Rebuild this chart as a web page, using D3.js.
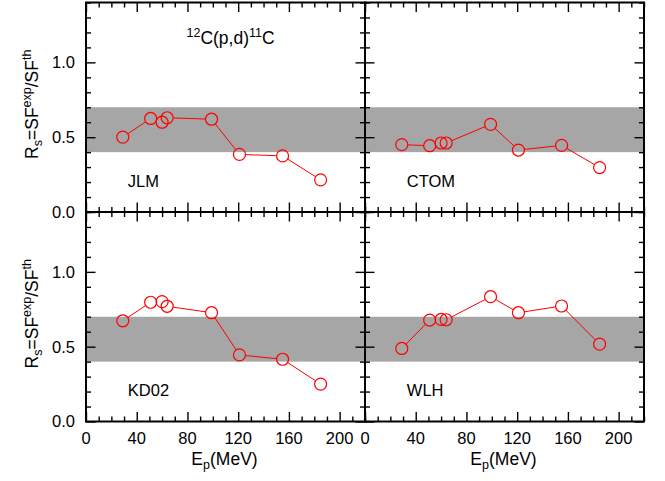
<!DOCTYPE html>
<html>
<head>
<meta charset="utf-8">
<script src="https://cdn.jsdelivr.net/npm/d3@7"></script>
<style>
  body { margin: 0; background: #fff; }
  svg { display: block; font-family: "Liberation Sans", Arial, Helvetica, sans-serif; }
</style>
</head>
<body>
<svg id="chart" width="665" height="481"></svg>
<script>
// ---- data ----
const energies = [29, 51, 60, 64, 99, 121, 155, 185];
const jlm  = [0.50, 0.625, 0.60, 0.63, 0.62, 0.385, 0.375, 0.215];
const ctom = [0.45, 0.443, 0.461, 0.461, 0.586, 0.414, 0.445, 0.297];
const kd02 = [0.673, 0.797, 0.801, 0.770, 0.727, 0.445, 0.416, 0.250];
const wlh  = [0.488, 0.678, 0.682, 0.680, 0.834, 0.727, 0.772, 0.517];
const panelNames = ["JLM", "CTOM", "KD02", "WLH"];
const panelSeries = [jlm, ctom, kd02, wlh];
const xTickLabels = [0, 40, 80, 120, 160, 200];
const yTickLabels = [0.0, 0.5, 1.0];
const bandRange = [0.4, 0.7];
const xDomain = [0, 220];
const yDomain = [0, 1.4];

// ---- layout ----
const svg = d3.select("#chart");
const colX = [86, 365], colW = 279;
const rowY = [2.5, 212], rowH = 209.5;
const minorLen = 5, majorLen = 9.5;
const R = 6;

const xMinor = d3.range(0, 221, 10).filter(v => v % 40 !== 0);
const xMajor = d3.range(0, 221, 40);
const yMinor = d3.range(0, 15, 1).map(v => v / 10).filter(v => Math.round(v * 10) % 5 !== 0);
const yMajor = [0, 0.5, 1.0];

function styleAxis(sel) {
  sel.select(".domain").remove();
  sel.selectAll(".tick line").attr("stroke", "#000").attr("stroke-width", 1.4);
  sel.selectAll(".tick text").remove();
}

panelNames.forEach((name, idx) => {
  const c = idx % 2, r = Math.floor(idx / 2);
  const x0 = colX[c], y0 = rowY[r];
  const x = d3.scaleLinear().domain(xDomain).range([x0, x0 + colW]);
  const y = d3.scaleLinear().domain(yDomain).range([y0 + rowH, y0]);
  const g = svg.append("g");

  // grey band
  g.append("rect")
    .attr("x", x(xDomain[0])).attr("width", x(xDomain[1]) - x(xDomain[0]))
    .attr("y", y(bandRange[1])).attr("height", y(bandRange[0]) - y(bandRange[1]))
    .attr("fill", "#a6a6a6");

  // ticks on all four sides (inward)
  [[xMinor, minorLen], [xMajor, majorLen]].forEach(([vals, len]) => {
    g.append("g").attr("transform", `translate(0,${y(0)})`)
      .call(d3.axisBottom(x).tickValues(vals).tickSize(-len)).call(styleAxis);
    g.append("g").attr("transform", `translate(0,${y(1.4)})`)
      .call(d3.axisTop(x).tickValues(vals).tickSize(-len)).call(styleAxis);
  });
  [[yMinor, minorLen], [yMajor, majorLen]].forEach(([vals, len]) => {
    g.append("g").attr("transform", `translate(${x(0)},0)`)
      .call(d3.axisLeft(y).tickValues(vals).tickSize(-len)).call(styleAxis);
    g.append("g").attr("transform", `translate(${x(220)},0)`)
      .call(d3.axisRight(y).tickValues(vals).tickSize(-len)).call(styleAxis);
  });

  // frame
  g.append("rect")
    .attr("x", x(0)).attr("y", y(1.4))
    .attr("width", x(220) - x(0)).attr("height", y(0) - y(1.4))
    .attr("fill", "none").attr("stroke", "#000").attr("stroke-width", 2);

  // data: segments clipped at the circle edges
  const vals = panelSeries[idx];
  const pts = energies.map((e, i) => [x(e), y(vals[i])]);
  const segs = d3.pairs(pts).map(([a, b]) => {
    const dx = b[0] - a[0], dy = b[1] - a[1];
    const L = Math.hypot(dx, dy);
    if (L <= 2 * R) return null;
    const ux = dx / L, uy = dy / L;
    return [[a[0] + ux * R, a[1] + uy * R], [b[0] - ux * R, b[1] - uy * R]];
  }).filter(s => s);
  g.selectAll("path.seg").data(segs).join("path")
    .attr("class", "seg")
    .attr("d", d => d3.line()(d))
    .attr("fill", "none").attr("stroke", "#ff0000").attr("stroke-width", 1);
  g.selectAll("circle.pt").data(pts).join("circle")
    .attr("class", "pt")
    .attr("cx", d => d[0]).attr("cy", d => d[1]).attr("r", R)
    .attr("fill", "none").attr("stroke", "#ff0000").attr("stroke-width", 1.2);

  // panel label
  g.append("text").attr("x", x(33)).attr("y", y(0.17))
    .attr("font-size", 16.5).text(name);

  // y tick labels (left column)
  if (c === 0) {
    g.selectAll("text.yt").data(yTickLabels).join("text")
      .attr("class", "yt")
      .attr("x", x0 - 11).attr("y", d => y(d)).attr("dy", "0.36em")
      .attr("text-anchor", "end").attr("font-size", 16.5)
      .text(d => d.toFixed(1));
    const yl = g.append("text")
      .attr("transform", `translate(38,${y(0.7) - 3}) rotate(-90)`)
      .attr("text-anchor", "middle").attr("font-size", 17.5);
    yl.append("tspan").text("R");
    yl.append("tspan").attr("font-size", 12.5).attr("dy", 4).text("s");
    yl.append("tspan").attr("dy", -4).text("=SF");
    yl.append("tspan").attr("font-size", 12.5).attr("dy", -7).text("exp");
    yl.append("tspan").attr("dy", 7).text("/SF");
    yl.append("tspan").attr("font-size", 12.5).attr("dy", -7).text("th");
  }
  // x tick labels (bottom row)
  if (r === 1) {
    g.selectAll("text.xt").data(xTickLabels).join("text")
      .attr("class", "xt")
      .attr("x", d => x(d)).attr("y", y(0) + 22)
      .attr("text-anchor", "middle").attr("font-size", 16.5)
      .text(d => d);
    const xl = g.append("text")
      .attr("x", x(110) - 1).attr("y", y(0) + 43)
      .attr("text-anchor", "middle").attr("font-size", 17.5);
    xl.append("tspan").text("E");
    xl.append("tspan").attr("font-size", 12.5).attr("dy", 4).text("p");
    xl.append("tspan").attr("dy", -4).text("(MeV)");
  }
  // reaction title
  if (idx === 0) {
    const t = g.append("text")
      .attr("x", x(114)).attr("y", y(1.12))
      .attr("text-anchor", "middle").attr("font-size", 17.5);
    t.append("tspan").attr("font-size", 12.5).attr("dy", -7).text("12");
    t.append("tspan").attr("dy", 7).text("C(p,d)");
    t.append("tspan").attr("font-size", 12.5).attr("dy", -7).text("11");
    t.append("tspan").attr("dy", 7).text("C");
  }
});
</script>
</body>
</html>
